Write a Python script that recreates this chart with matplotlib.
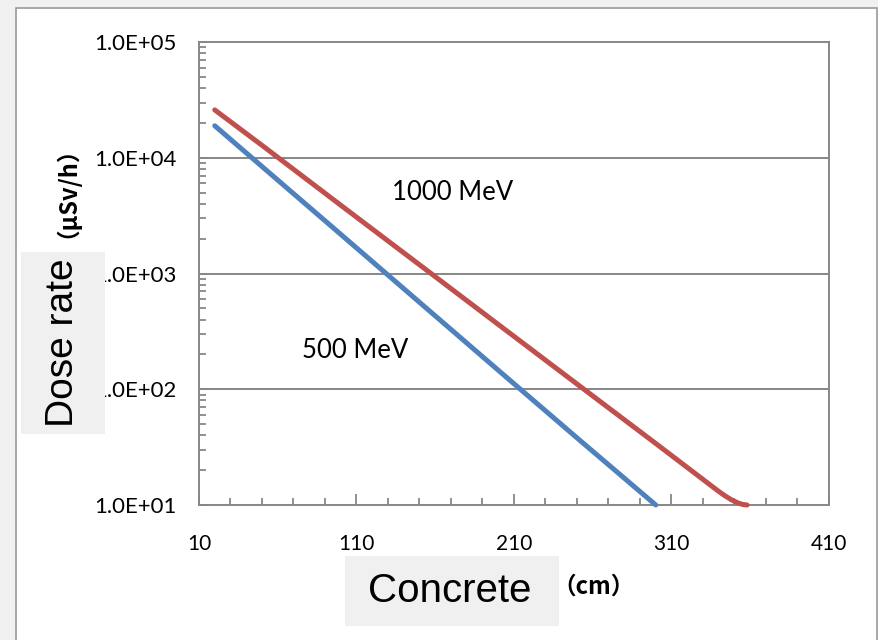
import matplotlib
matplotlib.use("Agg")
import matplotlib.pyplot as plt
from matplotlib.patches import Rectangle
from matplotlib.ticker import FixedLocator, FuncFormatter, LogLocator, NullFormatter

# ---- data ----
thickness_500 = [20, 50, 100, 150, 200, 250, 300]
dose_500 = [18900, 8400, 2180, 564, 146, 38, 10]

thickness_1000 = [20, 50, 100, 150, 200, 250, 300, 340, 344, 348, 352, 355, 358]
dose_1000 = [25900, 12800, 3890, 1190, 363, 111, 34, 13.1, 12.0, 11.1, 10.45, 10.12, 10.0]

x_ticks = [10, 110, 210, 310, 410]
x_minor = [30, 50, 70, 90, 130, 150, 170, 190, 230, 250, 270, 290, 330, 350, 370, 390]
y_ticks = [1e1, 1e2, 1e3, 1e4, 1e5]
label_500 = "500 MeV"
label_1000 = "1000 MeV"
y_unit = "（μSv/h）"
x_unit = "（cm）"
y_title = "Dose rate"
x_title = "Concrete"

W, H = 879, 640
fig = plt.figure(figsize=(W / 100, H / 100), dpi=100)
fig.patch.set_facecolor("#f0f0f0")
fig.add_artist(Rectangle((16 / W, -0.02), (877 - 16) / W, (H - 8) / H + 0.02,
                         transform=fig.transFigure, facecolor="white",
                         edgecolor="#9a9a9a", linewidth=1.2, zorder=0))

ax = fig.add_axes([199 / W, (H - 505) / H, 630 / W, 463 / H])
ax.set_facecolor("white")
ax.set_yscale("log")
ax.set_xlim(10, 410)
ax.set_ylim(10, 1e5)

grey = "#878787"
for s in ax.spines.values():
    s.set_color(grey)
    s.set_linewidth(1.4)

ax.xaxis.set_major_locator(FixedLocator(x_ticks))
ax.xaxis.set_minor_locator(FixedLocator(x_minor))
ax.yaxis.set_major_locator(FixedLocator(y_ticks))
ax.yaxis.set_minor_locator(LogLocator(base=10, subs=range(2, 10)))
ax.yaxis.set_minor_formatter(NullFormatter())
ax.yaxis.set_major_formatter(FuncFormatter(lambda v, p: f"{v:.1E}"))

ax.tick_params(axis="x", which="major", direction="in", length=8, width=1.3,
               color=grey, pad=21, labelsize=15, top=False)
ax.tick_params(axis="x", which="minor", direction="in", length=5, width=1.3,
               color=grey, top=False)
ax.tick_params(axis="y", which="major", direction="in", length=5, width=1.3,
               color=grey, pad=16, labelsize=16, right=False)
ax.tick_params(axis="y", which="minor", direction="in", length=5, width=1.3,
               color=grey, right=False)
for lab in ax.get_xticklabels() + ax.get_yticklabels():
    lab.set_fontfamily(["Lato", "DejaVu Sans"])

for yv in [1e2, 1e3, 1e4]:
    ax.axhline(yv, color=grey, linewidth=1.4, zorder=1)

ax.plot(thickness_500, dose_500, color="#4F81BD", linewidth=3.6,
        solid_capstyle="round", solid_joinstyle="round", zorder=3, clip_on=False)
ax.plot(thickness_1000, dose_1000, color="#C0504D", linewidth=3.6,
        solid_capstyle="round", solid_joinstyle="round", zorder=3, clip_on=False)

def px(x, y):
    return (x / W, 1 - y / H)

fig.text(*px(453, 193), label_1000, ha="center", va="center",
         family=["Lato", "DejaVu Sans"], size=18.5)
fig.text(*px(355, 351), label_500, ha="center", va="center",
         family=["Lato", "DejaVu Sans"], size=18.5)

# partially visible axis unit labels
fig.text(*px(55, 180), y_unit, ha="center", va="center", rotation=90,
         family=["Noto Sans CJK SC", "DejaVu Sans"], weight="bold", size=17)
fig.text(*px(594, 587), x_unit, ha="center", va="center",
         family=["Noto Sans CJK SC", "DejaVu Sans"], weight="bold", size=17)

# grey boxes with English titles
fig.add_artist(Rectangle(px(21, 434), (105 - 21) / W, (434 - 252) / H,
                         transform=fig.transFigure, facecolor="#f0f0f0",
                         edgecolor="none", zorder=5))
fig.text(*px(63, 343), y_title, ha="center", va="center", rotation=90,
         family=["Liberation Sans", "DejaVu Sans"], size=28, zorder=6)
fig.add_artist(Rectangle(px(345, 626), (559 - 345) / W, (626 - 556) / H,
                         transform=fig.transFigure, facecolor="#f0f0f0",
                         edgecolor="none", zorder=5))
fig.text(*px(450, 591), x_title, ha="center", va="center",
         family=["Liberation Sans", "DejaVu Sans"], size=29, zorder=6)

fig.savefig("out.png", dpi=100, facecolor=fig.get_facecolor())
